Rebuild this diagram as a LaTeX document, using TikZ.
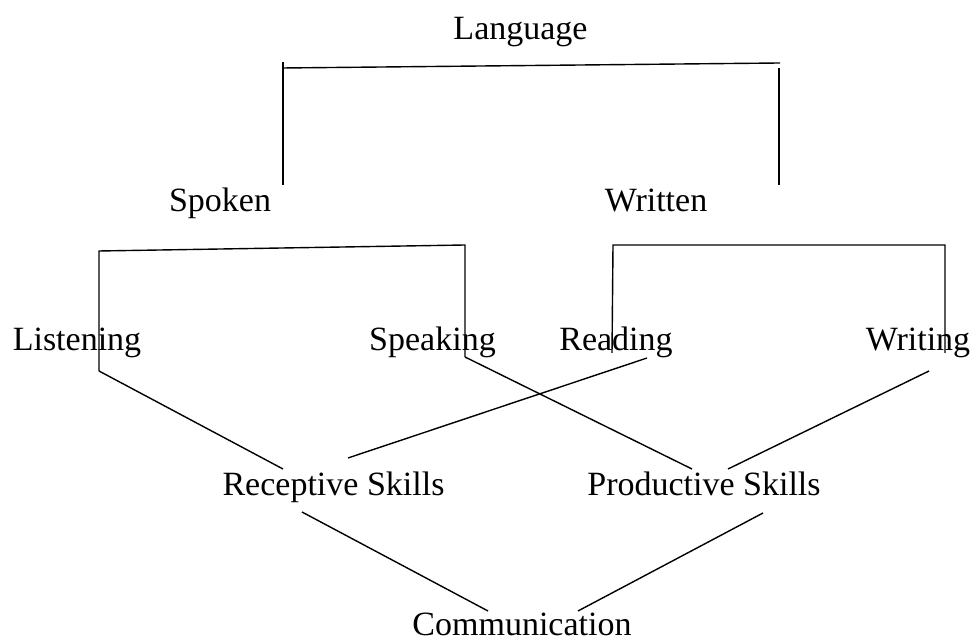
\documentclass[tikz,border=0pt]{standalone}
\usepackage{fontspec}
\setmainfont{Liberation Serif}
\usepackage{tikz}
\usetikzlibrary{positioning, calc}

\begin{document}
\begin{tikzpicture}[x=1pt,y=1pt,
    lbl/.style={anchor=base, inner sep=0pt, font=\fontsize{34}{40}\selectfont},
    link/.style={black, line width=1.4pt}]
  \path[use as bounding box] (0,0) rectangle (973,644);

  % labels
  \node[lbl] (language)   at (520.5,604) {Language};
  \node[lbl] (spoken)     at (220,432)   {Spoken};
  \node[lbl] (written)    at (656,432)   {Written};
  \node[lbl] (listening)  at (77,293)    {Listening};
  \node[lbl] (speaking)   at (432.5,293) {Speaking};
  \node[lbl] (reading)    at (616,293)   {Reading};
  \node[lbl] (writing)    at (918,293)   {Writing};
  \node[lbl] (receptive)  at (333.5,148) {Receptive Skills};
  \node[lbl] (productive) at (704,148)   {Productive Skills};
  \node[lbl] (communication) at (522,8)  {Communication};

  % joints
  \coordinate (lang-l)  at (283,576);
  \coordinate (lang-r)  at (780,581);
  \coordinate (lang-lt) at (283,582);
  \coordinate (lang-lb) at (283,459);
  \coordinate (lang-rt) at (779,576);
  \coordinate (lang-rb) at (779,459);

  \coordinate (spk-l)  at (99,393);
  \coordinate (spk-r)  at (465,399);
  \coordinate (spk-lb) at (99,273);
  \coordinate (spk-rb) at (465,287);

  \coordinate (wrt-l)  at (613,399);
  \coordinate (wrt-r)  at (945,399);
  \coordinate (wrt-lb) at (612,291);
  \coordinate (wrt-rb) at (945,291);

  \coordinate (rd-out) at (647,286);
  \coordinate (wr-out) at (929,273);
  \coordinate (rec-in1) at (283,175);
  \coordinate (rec-in2) at (348,186);
  \coordinate (rec-out) at (302,132);
  \coordinate (pro-in1) at (692,175);
  \coordinate (pro-in2) at (728,175);
  \coordinate (pro-out) at (763,131);
  \coordinate (com-l) at (488,33);
  \coordinate (com-r) at (578,33);

  % brackets
  \draw[link] (lang-l) -- (lang-r);
  \draw[link] (lang-lt) -- (lang-lb);
  \draw[link] (lang-rt) -- (lang-rb);
  \draw[link] (spk-lb) -- (spk-l) -- (spk-r) -- (spk-rb);
  \draw[link] (wrt-lb) -- (wrt-l) -- (wrt-r) -- (wrt-rb);

  % skills
  \draw[link] (spk-lb) -- (rec-in1);
  \draw[link] (rd-out) -- (rec-in2);
  \draw[link] (spk-rb) -- (pro-in1);
  \draw[link] (wr-out) -- (pro-in2);
  \draw[link] (rec-out) -- (com-l);
  \draw[link] (pro-out) -- (com-r);
\end{tikzpicture}
\end{document}
